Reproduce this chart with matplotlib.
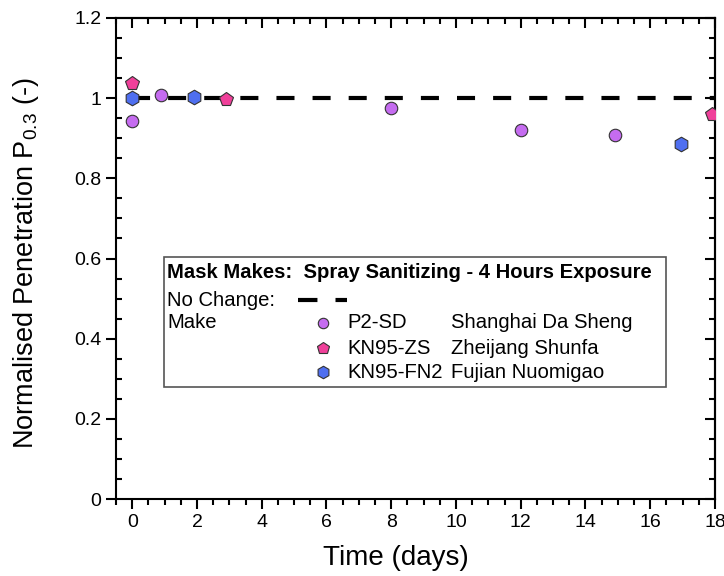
import matplotlib
matplotlib.use('Agg')
import matplotlib.pyplot as plt
from matplotlib.patches import Rectangle

plt.rcParams['font.family'] = ['Liberation Sans', 'DejaVu Sans']
plt.rcParams['mathtext.fontset'] = 'custom'
plt.rcParams['mathtext.rm'] = 'Liberation Sans'
plt.rcParams['mathtext.it'] = 'Liberation Sans'
plt.rcParams['lines.scale_dashes'] = False

# data
p2_days = [0, 0.9, 8.0, 12.0, 14.9]
p2_pen = [0.943, 1.008, 0.976, 0.921, 0.908]
zs_days = [0, 2.9, 17.9]
zs_pen = [1.038, 0.998, 0.960]
fn2_days = [0, 1.9, 16.95]
fn2_pen = [1.0, 1.003, 0.886]
ref_days = [0, 18]
ref_pen = [1.0, 1.0]

makes = ["P2-SD", "KN95-ZS", "KN95-FN2"]
companies = ["Shanghai Da Sheng", "Zheijang Shunfa", "Fujian Nuomigao"]

C_P2 = '#c56cf0'
C_ZS = '#f0409a'
C_FN2 = '#4f6ff0'

W, H = 724, 576
fig = plt.figure(figsize=(W / 100, H / 100), dpi=100)
ax = fig.add_axes([116 / W, 1 - 499 / H, 599 / W, 481 / H])

ax.plot(ref_days, ref_pen, color='black', lw=3, dashes=(13, 13), zorder=2)
mk = dict(ls='none', mec='#333333', mew=0.8, zorder=3)
ax.plot(p2_days, p2_pen, marker='o', ms=9, mfc=C_P2, **mk)
ax.plot(zs_days, zs_pen, marker='p', ms=10.5, mfc=C_ZS, **mk)
ax.plot(fn2_days, fn2_pen, marker='h', ms=10.5, mfc=C_FN2, **mk)

ax.set_xlim(-0.5, 18)
ax.set_ylim(0, 1.2)
ax.set_xticks(range(0, 19, 2))
ax.set_xticks([x / 2 for x in range(-1, 37)], minor=True)
ax.set_yticks([0, 0.2, 0.4, 0.6, 0.8, 1.0, 1.2])
ax.set_yticklabels(['0', '0.2', '0.4', '0.6', '0.8', '1', '1.2'])
ax.set_yticks([y * 0.05 for y in range(25)], minor=True)

for s in ax.spines.values():
    s.set_linewidth(1.5)
ax.tick_params(which='major', direction='out', length=7, width=1.5, labelsize=14)
ax.tick_params(axis='x', which='minor', direction='out', length=4, width=1.5)
ax.tick_params(axis='y', which='minor', direction='in', length=4, width=1.5)

# inward ticks on top and right
top = ax.secondary_xaxis('top')
top.set_xticks(range(0, 19, 2))
top.set_xticks([x / 2 for x in range(-1, 37)], minor=True)
top.tick_params(which='major', direction='in', length=7, width=1.5, labeltop=False)
top.tick_params(which='minor', direction='in', length=4, width=1.5)
right = ax.secondary_yaxis('right')
right.set_yticks([0, 0.2, 0.4, 0.6, 0.8, 1.0, 1.2])
right.set_yticks([y * 0.05 for y in range(25)], minor=True)
right.tick_params(which='major', direction='in', length=7, width=1.5, labelright=False)
right.tick_params(which='minor', direction='in', length=4, width=1.5)
for sec in (top, right):
    for s in sec.spines.values():
        s.set_linewidth(1.5)

ax.set_xlabel('Time (days)', fontsize=20)
ax.xaxis.set_label_coords(0.467, -0.095)
ax.set_ylabel('Normalised Penetration P$_{0.3}$ (-)', fontsize=19.5)
ax.yaxis.set_label_coords(-0.125, 0.49)


# hand-built legend box, positions in pixels of the figure
def fx(px):
    return (px - 116) / 599


def fy(py):
    return (499 - py) / 481


ax.add_patch(Rectangle((fx(164), fy(387)), fx(666) - fx(164), fy(257) - fy(387),
                       transform=ax.transAxes, fill=True, fc='white',
                       ec='#555555', lw=1.2, zorder=4))
kw = dict(transform=ax.transAxes, fontsize=14.6, va='center', ha='left', zorder=5)
ax.text(fx(167), fy(273), 'Mask Makes:  Spray Sanitizing - 4 Hours Exposure',
        fontweight='bold', **kw)
ax.text(fx(167), fy(300), 'No Change:', **kw)
ax.plot([fx(298), fx(347)], [fy(300), fy(300)], transform=ax.transAxes,
        color='black', lw=3, dashes=(14, 13), zorder=5)
ax.text(fx(167), fy(323), 'Make', **kw)
rows = [323, 348, 372]
styles = [('o', 7.5, C_P2), ('p', 9, C_ZS), ('h', 9, C_FN2)]
for row, (m, ms, c), code, comp in zip(rows, styles, makes, companies):
    ax.plot([fx(323)], [fy(row)], transform=ax.transAxes, marker=m, ms=ms,
            mfc=c, mec='#333333', mew=0.8, ls='none', zorder=5, clip_on=False)
    ax.text(fx(347), fy(row), code, **kw)
    ax.text(fx(451), fy(row), comp, **kw)

fig.savefig('out.png', dpi=100)
